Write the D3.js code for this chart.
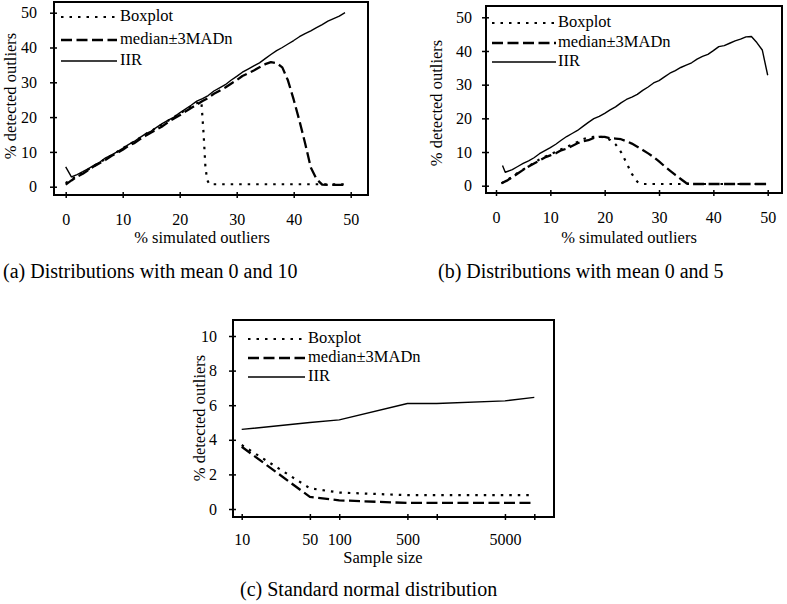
<!DOCTYPE html>
<html>
<head>
<meta charset="utf-8">
<script src="https://cdn.jsdelivr.net/npm/d3@7"></script>
<style>
  body { margin: 0; background: #fff; }
  svg { display: block; }
  text { font-family: "Liberation Serif", "Times New Roman", serif; fill: #000; }
  .tick text { font-size: 16px; }
  .axisTitle { font-size: 16.5px; }
  .legendText { font-size: 16.5px; }
  .caption { font-size: 20px; }
</style>
</head>
<body>
<div id="chart"></div>
<script>
"use strict";

// ---- panel (a): distributions with mean 0 and 10 ----
const simA = [0,1,2,3,4,5,6,7,8,9,10,11,12,13,14,15,16,17,18,19,20,21,22,23,24,25,26,27,28,29,30,31,32,33,34,35,36,37,38,39,40,41,42,43,44,45,46,47,48,49];
const iirA = [5.7,2.8,3.5,4.3,5.2,6.2,7.1,8.3,9.1,10.0,11.0,12.1,13.0,14.1,15.2,16.0,17.1,18.2,19.1,20.0,21.2,22.3,23.4,24.6,25.3,26.2,27.5,28.4,29.3,30.6,31.7,32.9,33.8,34.7,35.6,36.8,38.0,39.1,40.0,41.0,42.0,43.1,44.0,44.8,45.7,46.6,47.6,48.3,49.0,50.0];
const madA = [0.6,1.8,2.9,3.7,4.8,5.9,6.8,7.7,8.8,9.7,10.6,11.7,12.5,13.6,14.6,15.6,16.5,17.4,18.6,19.6,20.5,21.6,22.6,23.6,24.6,25.5,26.7,27.6,28.5,29.6,30.6,31.8,32.6,33.4,34.3,35.2,35.8,35.5,34.3,30.5,25.0,19.0,12.5,5.5,2.2,0.6,0.5,0.5,0.5,0.5];
const boxAx = [0,1,2,3,4,5,6,7,8,9,10,11,12,13,14,15,16,17,18,19,20,21,22,23,23.8,24.2,24.5,24.8,25.2,26,28,30,32,34,36,38,40,42,44,46,48,48.8];
const boxAy = [1.0,2.2,3.0,4.0,5.0,6.0,7.0,8.0,9.0,10.0,11.0,12.0,13.0,14.0,15.1,16.0,17.0,18.0,19.0,20.0,21.0,22.0,23.0,24.0,24.5,15.0,6.0,2.0,0.7,0.7,0.7,0.7,0.7,0.7,0.7,0.7,0.7,0.7,0.7,0.7,0.7,0.7];

// ---- panel (b): distributions with mean 0 and 5 ----
const iirBx = [1.2,1.7,3,4,5,6,7,8,9,10,11,12,13,14,15,16,17,18,19,20,21,22,23,24,25,26,27,28,29,30,31,32,33,34,35,36,37,38,39,40,41,42,43,44,45,46,47,48,49,50];
const iirBy = [6.0,4.0,4.8,5.7,6.6,7.4,8.3,9.5,10.4,11.3,12.3,13.5,14.6,15.5,16.4,17.6,18.8,19.9,20.6,21.5,22.5,23.4,24.6,25.6,26.3,27.1,28.3,29.3,30.5,31.2,32.3,33.4,34.2,35.1,35.8,36.5,37.6,38.4,39.0,40.1,41.3,41.6,42.3,43.0,43.5,44.2,44.3,42.5,40.3,32.8];
const simB = [1,2,3,4,5,6,7,8,9,10,11,12,13,14,15,16,17,18,19,20,21,22,23,24,25,26,27,28,29,30,31,32,33,34,35,36,37,38,39,40,41,42,43,44,45,46,47,48,49,50];
const madB = [0.7,1.5,2.5,3.6,4.7,5.7,6.6,7.5,8.4,9.0,9.6,10.5,11.0,11.8,12.6,13.2,13.5,14.2,14.5,14.5,14.1,14.0,13.8,13.2,12.5,11.6,10.6,9.6,8.5,7.2,5.8,4.5,3.2,2.0,0.8,0.5,0.5,0.5,0.5,0.5,0.5,0.5,0.5,0.5,0.5,0.5,0.5,0.5,0.5,0.5];
const boxB = [0.7,1.6,2.7,3.8,4.8,5.8,6.8,7.8,8.6,9.3,10.0,10.8,11.5,12.2,13.0,13.8,14.3,14.5,14.6,14.3,13.6,12.3,10.0,6.8,3.5,1.2,0.5,0.5,0.5,0.5,0.5,0.5,0.5,0.5,0.5,0.5,0.5,0.5,0.5,0.5,0.5,0.5,0.5,0.5,0.5,0.5,0.5,0.5,0.5,0.5];

// ---- panel (c): standard normal distribution ----
const sampleSizes = [10,50,100,500,1000,5000,10000];
const sizeLabels = ["10","50","100","500","","5000",""];
const iirC = [4.6,5.0,5.15,6.1,6.1,6.25,6.45];
const boxC = [3.7,1.2,0.95,0.8,0.8,0.8,0.8];
const madC = [3.6,0.7,0.5,0.35,0.35,0.35,0.35];

const legendNames = ["Boxplot","median\u00b13MADn","IIR"];
const pctTicks = [0,10,20,30,40,50];
const cTicks = [0,2,4,6,8,10];

// line styles for the three methods
const styles = {
    box: {dash: "2.5,6", width: 2.2},
    mad: {dash: "11,4.5", width: 2.3},
    iir: {dash: null, width: 1.4}
};

function pairs(xs, ys) { return xs.map((x, i) => [x, ys[i]]); }

/**
 * Draws one framed panel with its axes, lines, legend and caption.
 *
 * @param svg   The root svg.
 * @param p     Panel settings (frame, scales, labels, series).
 */
function drawPanel(svg, p) {
    const g = svg.append("g");

    // curves first, frame on top
    const line = d3.line().x(d => p.x(d[0])).y(d => p.y(d[1]));
    p.series.forEach(s => {
        g.append("path")
         .attr("d", line(s.points))
         .attr("fill", "none")
         .attr("stroke", "#000")
         .attr("stroke-width", styles[s.style].width)
         .attr("stroke-dasharray", styles[s.style].dash)
         .attr("stroke-linejoin", "round");
    });

    // frame
    g.append("rect")
     .attr("x", p.frame.left).attr("y", p.frame.top)
     .attr("width", p.frame.right - p.frame.left)
     .attr("height", p.frame.bottom - p.frame.top)
     .attr("fill", "none").attr("stroke", "#000").attr("stroke-width", 2);

    // y axis
    const yAxis = g.append("g")
      .attr("transform", `translate(${p.frame.left},0)`)
      .call(d3.axisLeft(p.y).tickValues(p.yTicks).tickSize(4).tickPadding(p.yPad));
    yAxis.select(".domain").remove();
    yAxis.selectAll(".tick line").attr("x2", -4).attr("x1", 3).attr("stroke-width", 1.5);

    // x axis
    const xAxis = g.append("g")
      .attr("transform", `translate(0,${p.frame.bottom})`)
      .call(d3.axisBottom(p.x).tickValues(p.xTicks).tickFormat(p.xFormat).tickSize(3).tickPadding(p.xPad));
    xAxis.select(".domain").remove();
    xAxis.selectAll(".tick line").attr("y1", -3).attr("y2", 3).attr("stroke-width", 1.5);

    // axis titles
    g.append("text").attr("class", "axisTitle")
     .attr("x", p.xTitle.x).attr("y", p.xTitle.y)
     .attr("text-anchor", "middle").attr("dominant-baseline", "middle")
     .text(p.xTitle.text);
    g.append("text").attr("class", "axisTitle")
     .attr("transform", `translate(${p.yTitle.x},${p.yTitle.y}) rotate(-90)`)
     .attr("text-anchor", "middle").attr("dominant-baseline", "middle")
     .text("% detected outliers");

    // legend
    const keys = ["box", "mad", "iir"];
    keys.forEach((k, i) => {
        const ly = p.legend.rows[i];
        g.append("line")
         .attr("x1", p.legend.x1).attr("x2", p.legend.x2)
         .attr("y1", ly).attr("y2", ly)
         .attr("stroke", "#000")
         .attr("stroke-width", styles[k].width)
         .attr("stroke-dasharray", styles[k].dash);
        g.append("text").attr("class", "legendText")
         .attr("x", p.legend.tx).attr("y", ly)
         .attr("dominant-baseline", "middle")
         .text(legendNames[i]);
    });

    // caption
    g.append("text").attr("class", "caption")
     .attr("x", p.caption.x).attr("y", p.caption.y)
     .attr("dominant-baseline", "middle")
     .text(p.caption.text);
}

function main() {
    const svg = d3.select("#chart").append("svg")
        .attr("width", 787).attr("height", 604);

    drawPanel(svg, {
        frame: {left: 54, right: 368, top: 2, bottom: 195},
        x: d3.scaleLinear().domain([0, 50]).range([65.7, 350.7]),
        y: d3.scaleLinear().domain([0, 50]).range([186.7, 12.7]),
        xTicks: pctTicks, yTicks: pctTicks, xFormat: d3.format("d"),
        yPad: 13, xPad: 16,
        xTitle: {x: 202, y: 239.5, text: "% simulated outliers"},
        yTitle: {x: 12, y: 96},
        legend: {x1: 61, x2: 117, tx: 120, rows: [17, 40, 61]},
        caption: {x: 3, y: 273, text: "(a) Distributions with mean 0 and 10"},
        series: [
            {style: "box", points: pairs(boxAx, boxAy)},
            {style: "mad", points: pairs(simA, madA)},
            {style: "iir", points: pairs(simA, iirA)}
        ]
    });

    drawPanel(svg, {
        frame: {left: 486, right: 782, top: 6, bottom: 193},
        x: d3.scaleLinear().domain([0, 50]).range([496, 767.7]),
        y: d3.scaleLinear().domain([0, 50]).range([185.7, 17.3]),
        xTicks: pctTicks, yTicks: pctTicks, xFormat: d3.format("d"),
        yPad: 10, xPad: 16,
        xTitle: {x: 629, y: 239, text: "% simulated outliers"},
        yTitle: {x: 438, y: 103},
        legend: {x1: 492, x2: 556, tx: 558, rows: [23, 43, 62]},
        caption: {x: 438, y: 273, text: "(b) Distributions with mean 0 and 5"},
        series: [
            {style: "box", points: pairs(simB, boxB)},
            {style: "mad", points: pairs(simB, madB)},
            {style: "iir", points: pairs(iirBx, iirBy)}
        ]
    });

    drawPanel(svg, {
        frame: {left: 233, right: 554, top: 320, bottom: 517},
        x: d3.scaleLog().domain([10, 10000]).range([241.7, 534.3]),
        y: d3.scaleLinear().domain([0, 10]).range([509, 336]),
        xTicks: sampleSizes, yTicks: cTicks,
        xFormat: (d, i) => sizeLabels[i],
        yPad: 12, xPad: 14,
        xTitle: {x: 383, y: 559.5, text: "Sample size"},
        yTitle: {x: 201, y: 418},
        legend: {x1: 248, x2: 305, tx: 308, rows: [339, 358, 377]},
        caption: {x: 240, y: 591, text: "(c) Standard normal distribution"},
        series: [
            {style: "box", points: pairs(sampleSizes, boxC)},
            {style: "mad", points: pairs(sampleSizes, madC)},
            {style: "iir", points: pairs(sampleSizes, iirC)}
        ]
    });
}

main();
</script>
</body>
</html>
